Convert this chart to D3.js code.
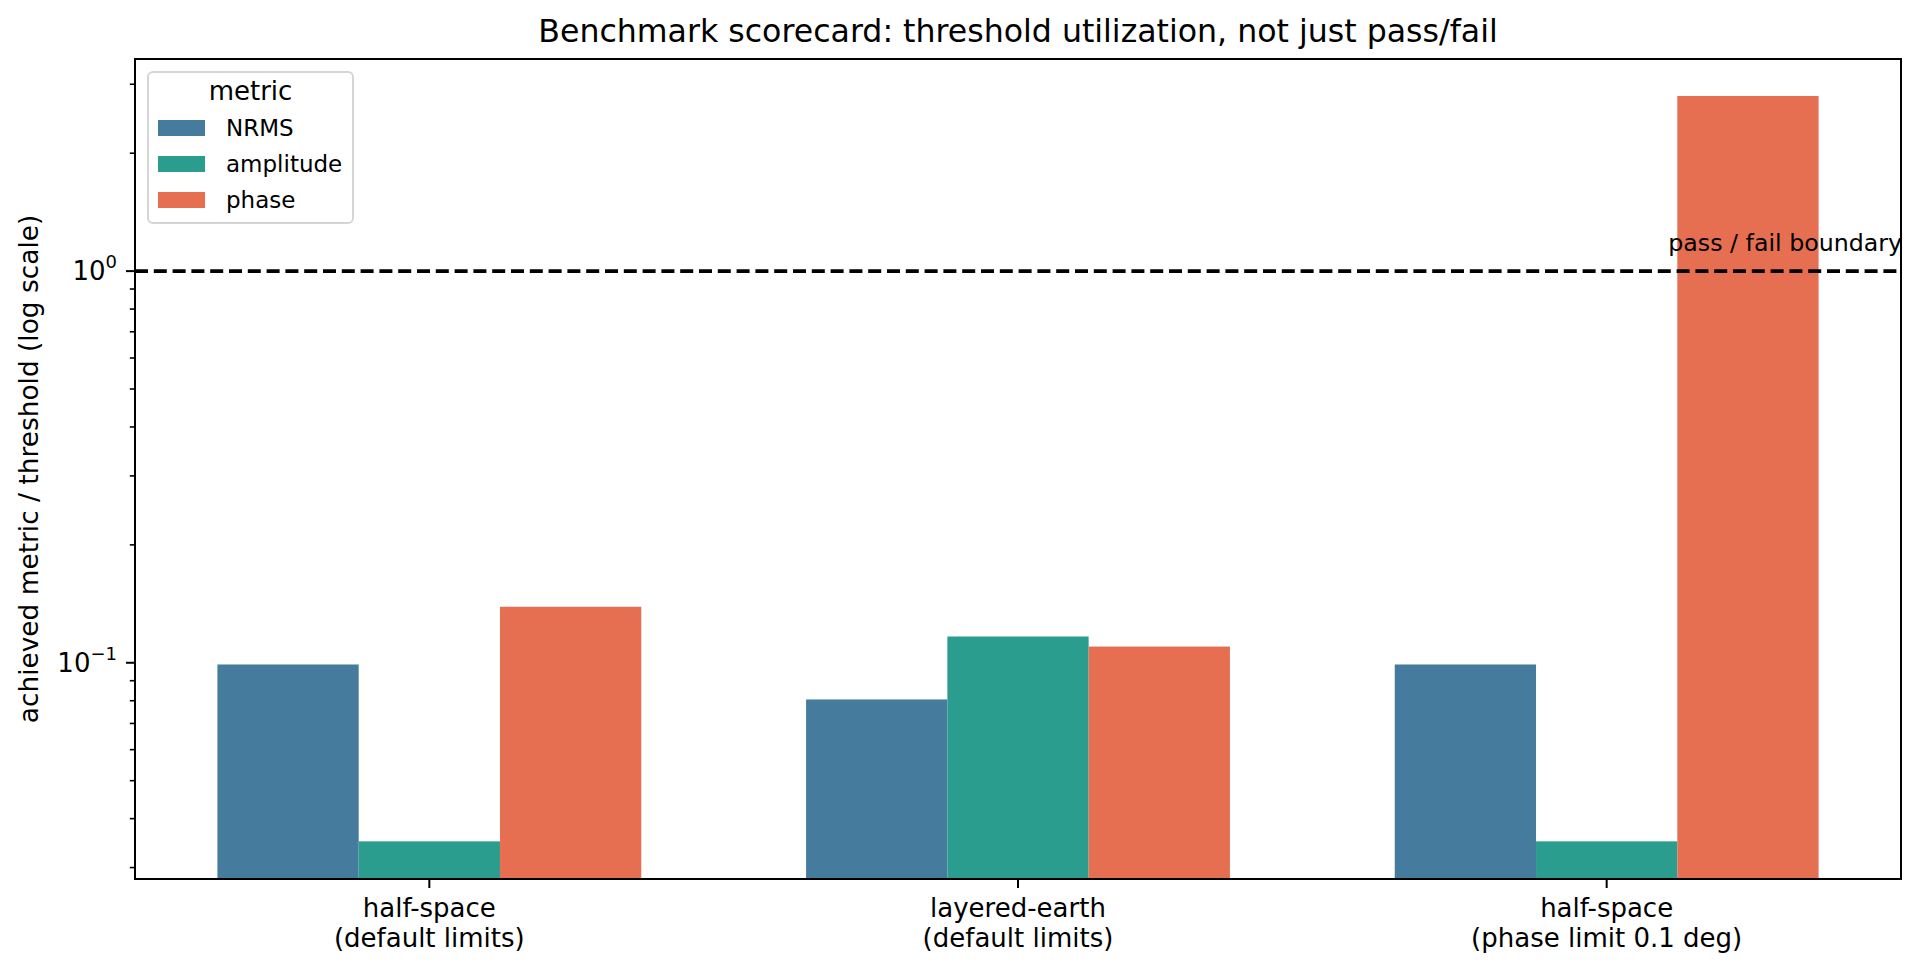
<!DOCTYPE html>
<html lang="en">

<head>
  <meta charset="UTF-8">
  <title>Benchmark scorecard</title>
  <style>
    body { margin: 0; background: #fff; }
    svg { font-family: "DejaVu Sans", sans-serif; }
  </style>
</head>

<body>
  <svg></svg>
  <script src="https://cdn.jsdelivr.net/npm/d3@7"></script>
  <script>
    // data
    var cases = ["half-space\n(default limits)", "layered-earth\n(default limits)", "half-space\n(phase limit 0.1 deg)"];
    var metrics = ["NRMS", "amplitude", "phase"];
    var nrms = [0.099, 0.0806, 0.099];
    var amplitude = [0.035, 0.1167, 0.035];
    var phase = [0.139, 0.110, 2.80];
    var colors = ["#457b9d", "#2a9d8f", "#e76f51"];
    var yDomain = [0.02805, 3.48];
    var majorTicks = [0.1, 1];
    var majorExp = ["\u22121", "0"];
    var boundary = 1.0;

    var width = 1922, height = 972;
    // plot area (window.top is reserved, so no bare "top")
    var axL = 135, axR = 1901, axT = 59, axB = 879;

    var svg = d3.select("svg")
      .attr("width", width)
      .attr("height", height);

    var series = [nrms, amplitude, phase];
    var rows = [];
    cases.forEach(function (c, i) {
      metrics.forEach(function (m, j) {
        rows.push({ cat: c, metric: m, j: j, value: series[j][i] });
      });
    });

    var x = d3.scaleBand().domain(cases).range([axL, axR]);
    var y = d3.scaleLog().domain(yDomain).range([axB, axT]);
    var groupW = x.bandwidth() * 0.72;
    var barW = groupW / 3;

    // 绘制柱子
    svg.append("g")
      .selectAll("rect")
      .data(rows)
      .join("rect")
      .attr("x", d => x(d.cat) + x.bandwidth() / 2 - groupW / 2 + d.j * barW)
      .attr("y", d => y(d.value))
      .attr("width", barW)
      .attr("height", d => axB - y(d.value))
      .attr("fill", d => colors[d.j]);

    // pass / fail line
    svg.append("line")
      .attr("x1", axL).attr("x2", axR)
      .attr("y1", y(boundary)).attr("y2", y(boundary))
      .attr("stroke", "#000")
      .attr("stroke-width", 3.6)
      .attr("stroke-dasharray", "13,5.8");

    svg.append("text")
      .attr("x", axR + 1)
      .attr("y", y(boundary) - 20)
      .attr("text-anchor", "end")
      .attr("font-size", "23.7px")
      .text("pass / fail boundary");

    // y axis ticks
    var minor = [];
    [0.01, 0.1, 1].forEach(function (p) {
      for (var k = 2; k <= 9; k++) {
        var v = p * k;
        if (v >= yDomain[0] && v <= yDomain[1]) minor.push(v);
      }
    });
    var yg = svg.append("g");
    yg.selectAll("line.minor")
      .data(minor)
      .join("line")
      .attr("class", "minor")
      .attr("x1", axL - 5.2).attr("x2", axL)
      .attr("y1", d => y(d)).attr("y2", d => y(d))
      .attr("stroke", "#000").attr("stroke-width", 1.6);
    yg.selectAll("line.major")
      .data(majorTicks)
      .join("line")
      .attr("class", "major")
      .attr("x1", axL - 9).attr("x2", axL)
      .attr("y1", d => y(d)).attr("y2", d => y(d))
      .attr("stroke", "#000").attr("stroke-width", 2);
    var lab = yg.selectAll("text")
      .data(majorTicks)
      .join("text")
      .attr("x", axL - 18)
      .attr("y", d => y(d) + 9)
      .attr("text-anchor", "end")
      .attr("font-size", "26px");
    lab.append("tspan").text("10");
    lab.append("tspan")
      .attr("font-size", "18px")
      .attr("dy", -12)
      .text((d, i) => majorExp[i]);

    // x axis ticks
    var xg = svg.append("g");
    xg.selectAll("line")
      .data(cases)
      .join("line")
      .attr("x1", d => x(d) + x.bandwidth() / 2)
      .attr("x2", d => x(d) + x.bandwidth() / 2)
      .attr("y1", axB).attr("y2", axB + 9)
      .attr("stroke", "#000").attr("stroke-width", 2);
    var xt = xg.selectAll("text")
      .data(cases)
      .join("text")
      .attr("text-anchor", "middle")
      .attr("font-size", "26px");
    xt.selectAll("tspan")
      .data(d => d.split("\n").map(s => ({ s: s, c: d })))
      .join("tspan")
      .attr("x", d => x(d.c) + x.bandwidth() / 2)
      .attr("y", (d, i) => 917 + i * 29.5)
      .text(d => d.s);

    // 坐标轴边框
    svg.append("rect")
      .attr("x", axL).attr("y", axT)
      .attr("width", axR - axL).attr("height", axB - axT)
      .attr("fill", "none")
      .attr("stroke", "#000")
      .attr("stroke-width", 2);

    // titles
    svg.append("text")
      .attr("x", (axL + axR) / 2)
      .attr("y", 42)
      .attr("text-anchor", "middle")
      .attr("font-size", "31.6px")
      .text("Benchmark scorecard: threshold utilization, not just pass/fail");

    svg.append("text")
      .attr("transform", `translate(38, ${(axT + axB) / 2}) rotate(-90)`)
      .attr("text-anchor", "middle")
      .attr("font-size", "26.4px")
      .text("achieved metric / threshold (log scale)");

    // 图例
    var legend = svg.append("g");
    legend.append("rect")
      .attr("x", 148).attr("y", 72)
      .attr("width", 205).attr("height", 151)
      .attr("rx", 5)
      .attr("fill", "#fff").attr("fill-opacity", 0.8)
      .attr("stroke", "#d5d5d5").attr("stroke-width", 2);
    legend.append("text")
      .attr("x", 250.5).attr("y", 100)
      .attr("text-anchor", "middle")
      .attr("font-size", "26px")
      .text("metric");
    var item = legend.selectAll("g")
      .data(metrics)
      .join("g")
      .attr("transform", (d, i) => `translate(0, ${128 + i * 36})`);
    item.append("rect")
      .attr("x", 158).attr("y", -8)
      .attr("width", 47).attr("height", 16)
      .attr("fill", (d, i) => colors[i]);
    item.append("text")
      .attr("x", 226).attr("y", 8)
      .attr("font-size", "23px")
      .text(d => d);
  </script>
</body>

</html>
